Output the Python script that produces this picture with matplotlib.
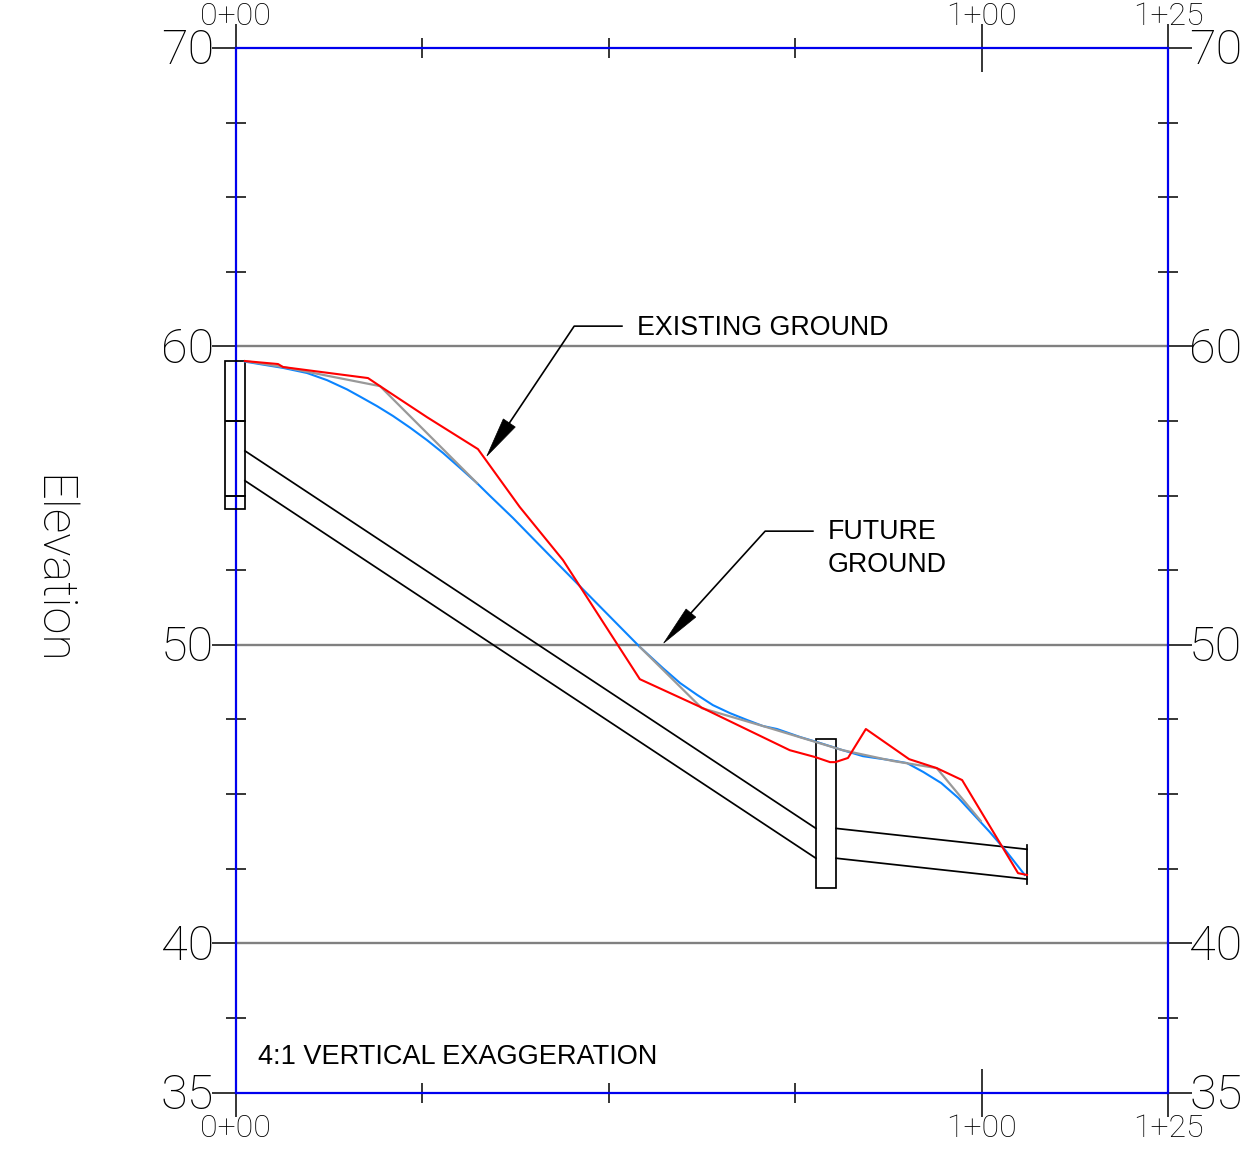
import matplotlib
matplotlib.use("Agg")
import matplotlib.pyplot as plt
from matplotlib.patches import Polygon, Rectangle
from matplotlib.transforms import ScaledTranslation

W, H = 1254, 1157
BLACK, BLUE, GRAY, RED, SKY = "#000000", "#0000ee", "#808080", "#ff0000", "#0a84ff"

x_major = [0, 100, 125]
x_major_labels = ["0+00", "1+00", "1+25"]
x_minor = [25, 50, 75]
y_major = [35, 40, 50, 60, 70]
y_minor = [37.5, 42.5, 45, 47.5, 52.5, 55, 57.5, 62.5, 65, 67.5]
grid_levels = [40, 50, 60]

existing_x = [1.27, 5.70, 6.37, 17.76, 19.37, 25.67, 32.5, 38.1, 43.9, 54.2, 62.3, 74.3, 77.7, 79.7, 80.4, 82.1, 84.5, 90.3, 94.0, 97.4, 104.9, 106.1]
existing_y = [59.51, 59.41, 59.31, 58.94, 58.67, 57.63, 56.56, 54.62, 52.84, 48.85, 47.92, 46.47, 46.24, 46.07, 46.07, 46.21, 47.18, 46.17, 45.87, 45.47, 42.35, 42.29]
future_x = [1.27, 6.37, 9.58, 12.27, 14.95, 16.69, 18.97, 21.11, 23.39, 25.67, 27.82, 30.09, 32.37, 34.12, 37.2, 43.5, 54.2, 57.3, 59.6, 61.9, 64.0, 66.3, 68.6, 70.7, 72.6, 75.7, 78.0, 81.4, 84.1, 87.7, 90.0, 92.2, 94.6, 96.9, 99.0, 101.1, 103.2, 105.8]
future_y = [59.49, 59.28, 59.11, 58.87, 58.56, 58.32, 58.00, 57.67, 57.28, 56.86, 56.43, 55.93, 55.42, 54.99, 54.25, 52.64, 49.93, 49.22, 48.72, 48.32, 47.98, 47.71, 47.48, 47.28, 47.18, 46.91, 46.74, 46.47, 46.27, 46.14, 46.04, 45.74, 45.37, 44.87, 44.30, 43.73, 43.12, 42.29]
grade1_x = [1.27, 6.37, 19.37, 32.37]
grade1_y = [59.51, 59.31, 58.67, 55.42]
grade2_x = [54.2, 62.5, 70.7, 81.4, 88.1, 94.0, 99.9]
grade2_y = [49.93, 47.88, 47.28, 46.47, 46.11, 45.87, 44.1]

pipe1_x = [1.27, 77.8]
pipe1_top = [56.5, 43.85]
pipe1_bot = [55.5, 42.85]
pipe2_x = [80.5, 106.1]
pipe2_top = [43.85, 43.15]
pipe2_bot = [42.85, 42.15]
wall1 = (-1.4, 54.55, 2.67, 4.95)
wall1_rules = [57.5, 55.0]
wall2 = (77.8, 41.85, 2.7, 4.99)
end_x, end_y0, end_y1 = 106.1, 42.0, 43.3

leader1_x, leader1_y = [51.8, 45.4, 36.7], [60.68, 60.68, 57.43]
head1 = [(33.7, 56.33), (35.9, 57.57), (37.5, 57.3)]
leader2_x, leader2_y = [77.4, 71.0, 61.06], [53.81, 53.81, 51.07]
head2 = [(57.4, 50.06), (60.4, 51.2), (61.7, 50.93)]

NUM_FONT = "Roboto"
NUM_WEIGHT = "light"

fig = plt.figure(figsize=(W / 100, H / 100), dpi=100, facecolor="white")
ax = fig.add_axes([235.5 / W, 1 - 1092.5 / H, 932.5 / W, 1044.5 / H])
ax.set_xlim(0, 125)
ax.set_ylim(35, 70)
ax.set_axisbelow(True)
for s in ax.spines.values():
    s.set_color(BLUE)
    s.set_linewidth(1.6)

ax.set_xticks(x_major, x_major_labels)
ax.set_xticks(x_minor, minor=True)
ax.set_yticks(y_major, [str(v) for v in y_major])
ax.set_yticks(y_minor, minor=True)
ax.tick_params(axis="both", which="major", direction="inout", length=34.5, width=1.1, color=BLACK,
               top=True, right=True, bottom=True, left=True)
ax.tick_params(axis="both", which="minor", direction="inout", length=14.5, width=1.1, color=BLACK,
               top=True, right=True, bottom=True, left=True)
ax.tick_params(axis="x", which="major", labeltop=True, labelbottom=True, labelsize=23, pad=-2)
ax.tick_params(axis="y", which="major", labelleft=True, labelright=True, labelsize=35, pad=-2)
for t in ax.xaxis.get_major_ticks() + ax.yaxis.get_major_ticks():
    for l in (t.label1, t.label2):
        l.set_fontfamily(NUM_FONT)
        l.set_fontweight(NUM_WEIGHT)
for t in ax.xaxis.get_major_ticks():
    t.label2.set_transform(t.label2.get_transform() + ScaledTranslation(0, -4 / 100, fig.dpi_scale_trans))
for t in ax.yaxis.get_major_ticks():
    for l in (t.label1, t.label2):
        l.set_transform(l.get_transform() + ScaledTranslation(0, 2 / 100, fig.dpi_scale_trans))

ax.hlines(grid_levels, 0, 125, color=GRAY, lw=1.7, zorder=2)

kw = dict(color=BLACK, lw=1.25, zorder=3, clip_on=False)
ax.plot(pipe1_x, pipe1_top, **kw)
ax.plot(pipe1_x, pipe1_bot, **kw)
ax.plot(pipe2_x, pipe2_top, **kw)
ax.plot(pipe2_x, pipe2_bot, **kw)
ax.plot([end_x, end_x], [end_y0, end_y1], **kw)
for x0, y0, w, h in (wall1, wall2):
    ax.add_patch(Rectangle((x0, y0), w, h, fill=False, ec=BLACK, lw=1.25, zorder=3, clip_on=False))
ax.hlines(wall1_rules, wall1[0], wall1[0] + wall1[2], color=BLACK, lw=1.25, zorder=3, clip_on=False)

ax.plot(future_x, future_y, color=SKY, lw=1.5, zorder=3.5)
ax.plot(grade1_x, grade1_y, color="#999999", lw=1.6, zorder=4)
ax.plot(grade2_x, grade2_y, color="#999999", lw=1.6, zorder=4)
ax.plot(existing_x, existing_y, color=RED, lw=1.5, zorder=6)

ax.plot(leader1_x, leader1_y, color=BLACK, lw=1.2, zorder=7)
ax.plot(leader2_x, leader2_y, color=BLACK, lw=1.2, zorder=7)
ax.add_patch(Polygon(head1, fc=BLACK, ec=BLACK, lw=0.5, zorder=7))
ax.add_patch(Polygon(head2, fc=BLACK, ec=BLACK, lw=0.5, zorder=7))

txt = dict(family="Liberation Sans", fontsize=19.3, color=BLACK, va="center", ha="left")
ax.text(53.85, 60.62, "EXISTING GROUND", **txt)
ax.text(79.4, 53.78, "FUTURE", **txt)
ax.text(79.4, 52.68, "GROUND", **txt)
ax.text(3.0, 36.19, "4:1 VERTICAL EXAGGERATION", family="Liberation Sans", fontsize=19.5,
        color=BLACK, va="center", ha="left")

fig.text(51 / W, 1 - 570 / H, "Elevation", rotation=270, fontsize=35, family=NUM_FONT, weight=NUM_WEIGHT,
         color=BLACK, ha="center", va="center")

fig.savefig("out.png", dpi=100)
